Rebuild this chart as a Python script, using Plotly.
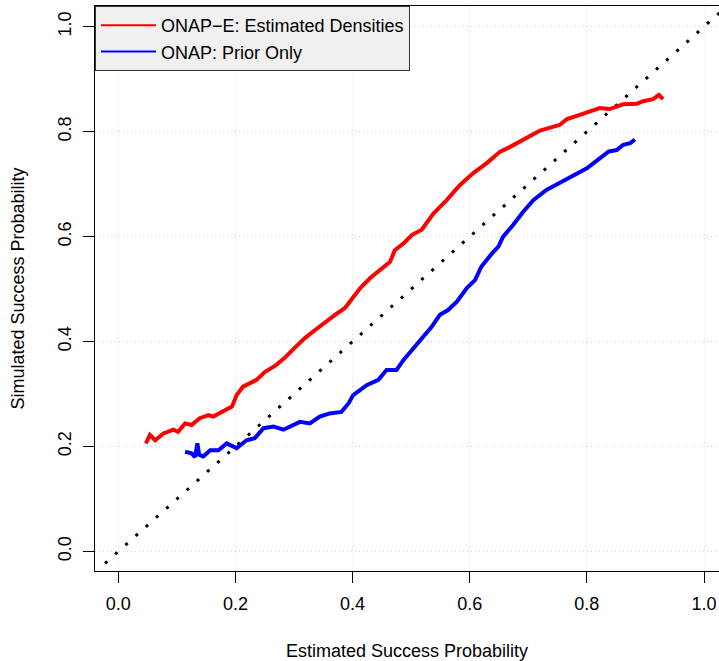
import plotly.graph_objects as go

# Red: ONAP-E (estimated densities)
red_x = [0.047, 0.054, 0.063, 0.077, 0.094, 0.102, 0.114, 0.125, 0.139, 0.154, 0.162, 0.179,
         0.194, 0.202, 0.213, 0.236, 0.250, 0.268, 0.284, 0.301, 0.319, 0.336, 0.353, 0.370,
         0.387, 0.399, 0.413, 0.430, 0.447, 0.464, 0.472, 0.487, 0.501, 0.518, 0.538, 0.561,
         0.583, 0.606, 0.629, 0.652, 0.669, 0.691, 0.720, 0.754, 0.766, 0.788, 0.822, 0.839,
         0.862, 0.885, 0.896, 0.913, 0.923, 0.930]
red_y = [0.206, 0.222, 0.212, 0.225, 0.232, 0.228, 0.244, 0.241, 0.254, 0.260, 0.257, 0.266,
         0.276, 0.298, 0.314, 0.327, 0.342, 0.354, 0.369, 0.388, 0.407, 0.422, 0.437, 0.451,
         0.464, 0.483, 0.502, 0.521, 0.536, 0.552, 0.574, 0.587, 0.603, 0.613, 0.644, 0.670,
         0.698, 0.721, 0.740, 0.762, 0.771, 0.785, 0.802, 0.813, 0.824, 0.832, 0.845, 0.843,
         0.852, 0.853, 0.858, 0.862, 0.870, 0.862]

# Blue: ONAP (prior only)
blue_x = [0.114, 0.125, 0.131, 0.135, 0.138, 0.145, 0.157, 0.171, 0.185, 0.202, 0.219, 0.233,
          0.248, 0.265, 0.282, 0.299, 0.310, 0.327, 0.344, 0.361, 0.381, 0.393, 0.401, 0.424,
          0.444, 0.458, 0.467, 0.475, 0.487, 0.504, 0.521, 0.535, 0.549, 0.563, 0.578, 0.595,
          0.609, 0.620, 0.638, 0.649, 0.657, 0.674, 0.691, 0.709, 0.731, 0.754, 0.777, 0.800,
          0.822, 0.837, 0.851, 0.862, 0.874, 0.882]
blue_y = [0.190, 0.187, 0.180, 0.206, 0.184, 0.181, 0.193, 0.193, 0.206, 0.197, 0.212, 0.216,
          0.235, 0.238, 0.232, 0.241, 0.247, 0.244, 0.257, 0.263, 0.266, 0.282, 0.298, 0.317,
          0.327, 0.346, 0.346, 0.346, 0.365, 0.387, 0.409, 0.428, 0.451, 0.460, 0.476, 0.502,
          0.517, 0.543, 0.568, 0.581, 0.600, 0.622, 0.647, 0.670, 0.689, 0.702, 0.716, 0.730,
          0.749, 0.762, 0.765, 0.775, 0.778, 0.785]

series_names = ["ONAP\u2212E: Estimated Densities", "ONAP: Prior Only"]

# identity reference line extent
diag = [-0.0227, 1.06]

tick_vals = [0.0, 0.2, 0.4, 0.6, 0.8, 1.0]
tick_text = ["0.0", "0.2", "0.4", "0.6", "0.8", "1.0"]

FONT = "Liberation Sans, Arial, sans-serif"
RED = "#ff0000"
BLUE = "#0000ff"

fig = go.Figure()
fig.add_trace(go.Scatter(x=diag, y=diag, mode="lines", showlegend=False,
                         line=dict(color="black", width=3, dash="3px,10.7px"),
                         hoverinfo="skip"))
fig.add_trace(go.Scatter(x=red_x, y=red_y, mode="lines", name=series_names[0],
                         legendgroup="r", showlegend=False,
                         line=dict(color=RED, width=4)))
fig.add_trace(go.Scatter(x=blue_x, y=blue_y, mode="lines", name=series_names[1],
                         legendgroup="b", showlegend=False,
                         line=dict(color=BLUE, width=4)))
# legend entries (thinner key lines, as in the original)
fig.add_trace(go.Scatter(x=[None], y=[None], mode="lines", name=series_names[0],
                         legendgroup="r", line=dict(color=RED, width=2)))
fig.add_trace(go.Scatter(x=[None], y=[None], mode="lines", name=series_names[1],
                         legendgroup="b", line=dict(color=BLUE, width=2)))

axis_common = dict(
    tickvals=tick_vals, ticktext=tick_text,
    ticks="outside", ticklen=11, tickwidth=1, tickcolor="black",
    showgrid=True, gridcolor="#d3d3d3", gridwidth=1, griddash="1px,3px",
    zeroline=False, showline=True, linecolor="black", linewidth=1,
    tickfont=dict(family=FONT, size=18, color="black"),
    ticklabelstandoff=5,
)

fig.update_layout(
    width=719, height=661,
    margin=dict(l=95, r=0, t=6, b=90),
    paper_bgcolor="white", plot_bgcolor="white",
    font=dict(family=FONT, size=18, color="black"),
    xaxis=dict(range=[-0.0398, 1.0256], mirror=True,
               title=dict(text="Estimated Success Probability", standoff=32,
                          font=dict(family=FONT, size=18, color="black")),
               **axis_common),
    yaxis=dict(range=[-0.0372, 1.0394], mirror=False, tickangle=-90,
               title=dict(text="Simulated Success Probability", standoff=25,
                          font=dict(family=FONT, size=18, color="black")),
               **axis_common),
    legend=dict(x=0, y=1, xanchor="left", yanchor="top",
                bgcolor="#f0f0f0", bordercolor="#333333", borderwidth=1,
                font=dict(family=FONT, size=18, color="black"),
                tracegroupgap=0, itemwidth=55),
)

fig.write_html("out.html")
